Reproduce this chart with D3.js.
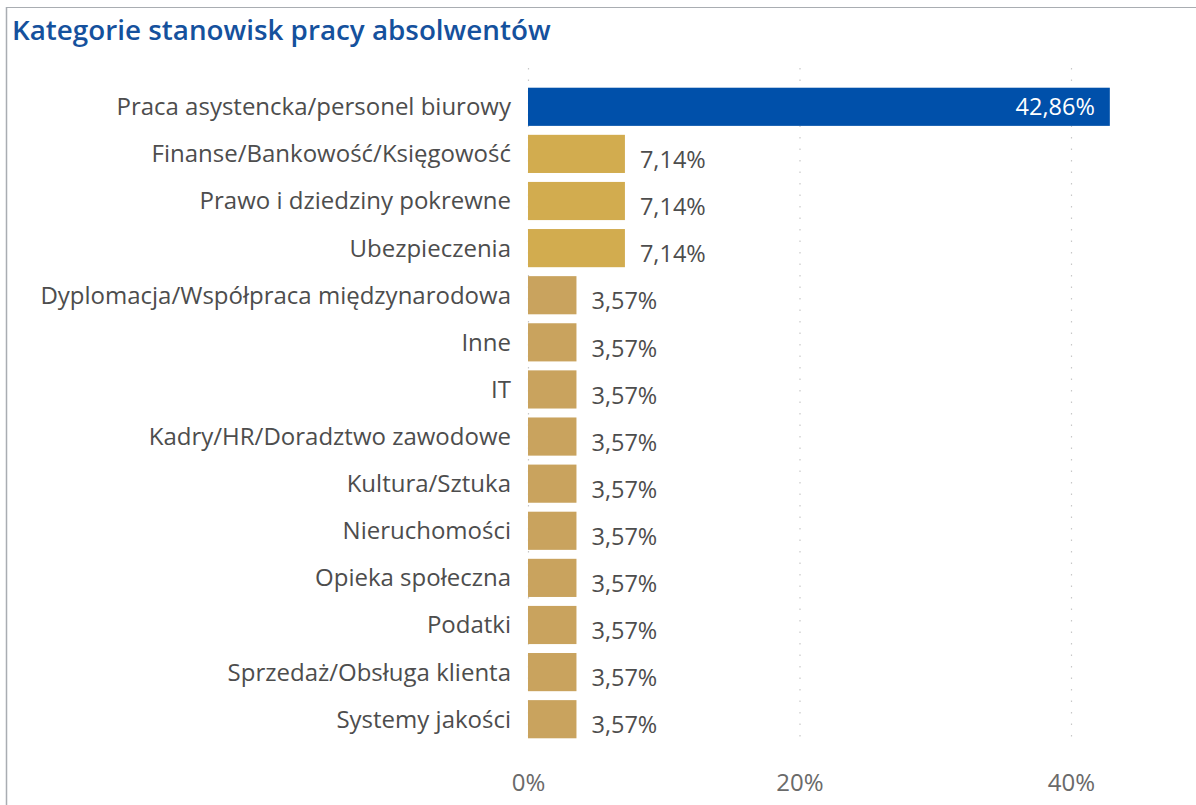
<!DOCTYPE html>
<html>
<head>
<meta charset="utf-8">
<script src="https://cdn.jsdelivr.net/npm/d3@7"></script>
<style>
  body { margin: 0; background: #fff; }
  svg { display: block; }
</style>
</head>
<body>
<svg id="chart" width="1196" height="805"></svg>
<script>
// Données du graphique
const categories = [
  "Praca asystencka/personel biurowy",
  "Finanse/Bankowość/Księgowość",
  "Prawo i dziedziny pokrewne",
  "Ubezpieczenia",
  "Dyplomacja/Współpraca międzynarodowa",
  "Inne",
  "IT",
  "Kadry/HR/Doradztwo zawodowe",
  "Kultura/Sztuka",
  "Nieruchomości",
  "Opieka społeczna",
  "Podatki",
  "Sprzedaż/Obsługa klienta",
  "Systemy jakości"
];
const values = [42.86, 7.14, 7.14, 7.14, 3.57, 3.57, 3.57, 3.57, 3.57, 3.57, 3.57, 3.57, 3.57, 3.57];
const ticks = [0, 20, 40];
const title = "Kategorie stanowisk pracy absolwentów";

const svg = d3.select("#chart");
const W = 1196, H = 805;
const font = "'Open Sans', 'Noto Sans', sans-serif";

// Cadre léger en haut et à gauche
svg.append("line").attr("x1", 6).attr("x2", W).attr("y1", 7.5).attr("y2", 7.5)
  .attr("stroke", "#a9adb2").attr("stroke-width", 1.2);
svg.append("line").attr("x1", 6.5).attr("x2", 6.5).attr("y1", 7).attr("y2", H)
  .attr("stroke", "#a9adb2").attr("stroke-width", 1.5);

// Titre
svg.append("text")
  .attr("x", 12).attr("y", 40)
  .attr("font-family", font).attr("font-weight", 600).attr("font-size", 27.8)
  .attr("fill", "#15519d")
  .text(title);

const data = categories.map((c, i) => ({ cat: c, val: values[i] }));

// Échelles
const x = d3.scaleLinear().domain([0, 40]).range([528, 1071]);
const y = d3.scaleBand().domain(categories).range([83, 743]).paddingInner(0.19).paddingOuter(0.1);

// Grille pointillée
svg.append("g").selectAll("line").data(ticks).join("line")
  .attr("x1", d => x(d) + 0.5).attr("x2", d => x(d) + 0.5)
  .attr("y1", 68).attr("y2", 742)
  .attr("stroke", "#c8c8c8").attr("stroke-width", 1.2)
  .attr("stroke-dasharray", "1.5,10");

// Axe des pourcentages
const axis = svg.append("g")
  .attr("transform", `translate(0,${H - 17})`)
  .call(d3.axisBottom(x).tickValues(ticks).tickFormat(d => d + "%").tickSize(0));
axis.select(".domain").remove();
axis.selectAll("text")
  .attr("font-family", font).attr("font-weight", 400).attr("font-size", 24)
  .attr("fill", "#6a6a6a").attr("dy", 0);

// Libellés des catégories
svg.append("g").selectAll("text").data(data).join("text")
  .attr("x", 511)
  .attr("y", d => y(d.cat) + y.bandwidth() / 2)
  .attr("dy", "0.35em")
  .attr("text-anchor", "end")
  .attr("font-family", font).attr("font-weight", 500).attr("font-size", 24)
  .attr("fill", "#4d4d4d")
  .text(d => d.cat);

// Couleur selon la valeur
const color = d => d.val > 20 ? "#0050aa" : d.val > 5 ? "#d2ac4f" : "#c9a35e";

// Barres
svg.append("g").selectAll("rect").data(data).join("rect")
  .attr("x", x(0))
  .attr("y", d => y(d.cat))
  .attr("width", d => x(d.val) - x(0))
  .attr("height", y.bandwidth())
  .attr("fill", color);

// Étiquettes de valeur
const fmt = v => v.toFixed(2).replace(".", ",") + "%";
svg.append("g").selectAll("text").data(data).join("text")
  .attr("x", d => d.val > 20 ? x(d.val) - 15 : x(d.val) + 15)
  .attr("y", d => y(d.cat) + y.bandwidth() / 2 + (d.val > 20 ? 0 : 6))
  .attr("dy", "0.35em")
  .attr("text-anchor", d => d.val > 20 ? "end" : "start")
  .attr("font-family", font).attr("font-weight", 500).attr("font-size", 23.5)
  .attr("fill", d => d.val > 20 ? "#fff" : "#4d4d4d")
  .text(d => fmt(d.val));
</script>
</body>
</html>
